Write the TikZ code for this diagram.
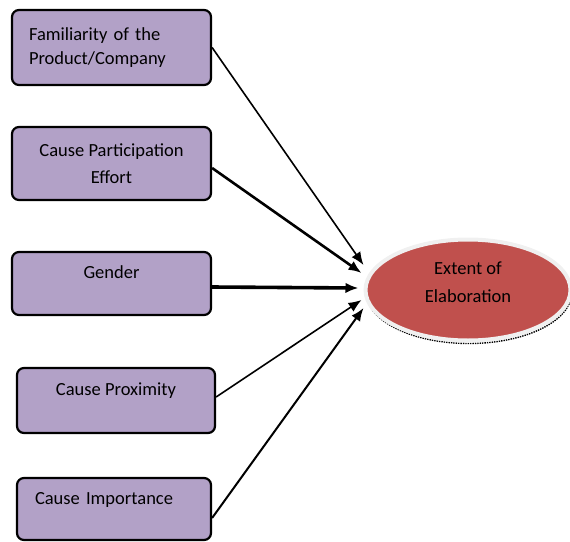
\documentclass[tikz,border=0pt]{standalone}
\usepackage{fontspec}
\setmainfont{Carlito}
\usetikzlibrary{arrows.meta,shapes.geometric,positioning}
\definecolor{boxpurple}{HTML}{B2A1C7}
\definecolor{ovalred}{HTML}{C0504D}
\tikzset{factor/.style={rectangle,rounded corners=7pt,draw=black,fill=boxpurple,line width=2.2pt,minimum width=199pt,font=\fontsize{18.5}{26}\selectfont,align=center}}
\tikzset{oneline/.style={text height=12pt,text depth=22pt}}
\tikzset{outcome/.style={ellipse,draw=black!6,line width=4pt,fill=ovalred,minimum width=205pt,minimum height=101pt,font=\fontsize{18.5}{28}\selectfont,align=center,preaction={draw=black,densely dotted,line width=1.4pt,transform canvas={shift={(1pt,-3pt)}}}}}
\tikzset{toArrow/.style={-{Latex[length=13pt,width=10.5pt]}}}

\begin{document}
\begin{tikzpicture}[x=1pt,y=-1pt]
\useasboundingbox (0,0) rectangle (570,541);
	\node (elab) [outcome] at (468,290) {Extent of\\Elaboration\\[-12pt]\mbox{}} ;
	\node (fam) [factor, minimum height=75pt, text width=165pt, align=left] at (111.5,47.5) {Familiarity of the\\[-2pt]Product/Company} ;
	\node (part) [factor, minimum height=73pt] at (111.5,163.5) {Cause Participation\\[1pt]Effort} ;
	\node (gend) [factor, oneline, minimum height=63pt] at (111.5,283.5) {Gender} ;
	\node (prox) [factor, oneline, minimum height=65pt, minimum width=198pt] at (116,400.5) {Cause Proximity} ;
	\node (imp) [factor, oneline, minimum height=62pt, minimum width=194pt, text width=158pt, align=left] at (114,509) {Cause Importance} ;
	\draw [toArrow, line width=1.6pt] (fam.east) -- ([yshift=25pt]elab.west) ;
	\draw [toArrow, line width=2.6pt] ([yshift=-4.5pt]part.east) -- ([xshift=-2pt,yshift=17pt]elab.west) ;
	\draw [toArrow, line width=3.6pt] ([yshift=-3.5pt]gend.east) -- ([xshift=-5pt,yshift=2pt]elab.west) ;
	\draw [toArrow, line width=1.6pt] ([yshift=3.5pt]prox.east) -- ([xshift=-2pt,yshift=-10pt]elab.west) ;
	\draw [toArrow, line width=2pt] ([yshift=-9pt]imp.east) -- ([yshift=-18pt]elab.west) ;
\end{tikzpicture}
\end{document}
